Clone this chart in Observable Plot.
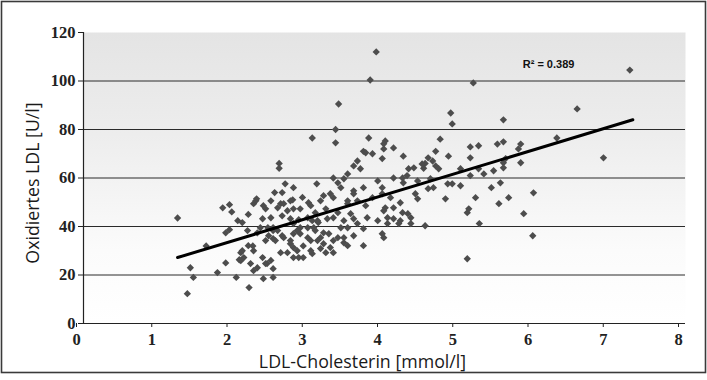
<!DOCTYPE html>
<html><head><meta charset="utf-8">
<script src="https://cdn.jsdelivr.net/npm/d3@7"></script>
<script src="https://cdn.jsdelivr.net/npm/@observablehq/plot@0.6"></script>
<style>body{margin:0;background:#fff}#chart svg{display:block}</style>
</head><body><div id="chart"></div>
<script>
// LDL-Cholesterin [mmol/l]
const ldl = [
1.25,1.38,1.42,1.46,1.63,1.78,1.85,1.89,1.89,1.94,1.94,1.97,2.03,2.05,2.07,2.09,2.11,2.11,2.13,2.19,
2.2,2.25,2.26,2.26,2.3,2.38,2.38,2.42,2.44,2.49,2.49,2.52,2.52,2.52,2.54,2.6,2.6,2.62,2.62,2.64,
2.64,2.68,2.71,2.78,2.79,2.79,2.79,2.84,2.86,2.88,2.91,2.92,2.98,2.99,3.04,3.04,3.08,3.1,3.19,3.22,
3.28,3.32,3.35,3.35,3.39,3.46,3.46,3.51,3.59,3.59,3.64,3.68,3.72,3.72,3.75,3.79,3.81,3.84,3.84,3.89,
3.91,3.97,3.97,3.97,4.01,4.01,3.99,4.12,4.25,4.32,4.3,4.24,4.52,4.54,4.54,4.68,4.74,4.85,4.88,4.9,
4.9,5.01,5.1,5.1,5.12,5.14,5.14,5.18,5.21,5.25,5.25,5.26,5.42,5.5,5.52,5.54,5.58,5.58,5.58,5.65,
5.78,5.81,5.81,5.85,5.97,5.98,6.29,6.56,6.91,7.26,
3.38,3.42,3.64,3.38,3.24,3.12,3.04,3.59,3.77,3.91,4.04,3.51,3.72,3.06,3.19,3.26,3.38,3.59,3.19,3.11,
3.32,3.46,3.51,3.72,3.15,3.22,
4.64,4.68,4.72,4.61,4.65,4.58,4.84,4.41,4.44,4.81,3.97,4.08,4.21,4.12,3.99,4.04,4.24,4.31,4.35,4.12,
4.21,4.19,3.99,4.35,
2.18,2.35,2.46,2.58,2.66,2.75,2.55,2.42,2.52,2.88,3.02,3.08,3.11,2.98,2.86,2.75,2.64,
2.29,2.39,2.49,2.58,2.66,2.75,3.02,3.15,3.32,3.51,3.59,3.55,3.32,2.79,2.52,2.45,2.31,2.19,2.09,
2.22,2.31,2.42,2.26,2.39,2.71,2.75,2.84,2.92,2.79,3.02,3.28,3.32,3.46,3.15,2.98,2.79,2.88,3.42,3.64,
3.75,3.99,4.58,4.5,5.61,4.12,4.25,4.39,4.44,5.01,5.14,5.32,5.45,5.58,3.51
];
// Oxidiertes LDL [U/l]
const oxLdl = [
43.5,12.3,23,19,32,21,47.7,37.4,25,49,38.7,46,19,42.4,26.3,29.2,41.6,30,27.2,45,
14.8,32,30,49.4,51.4,43.2,27.2,47.3,24.7,26,43.6,35,22.6,19,54,66,64,49.4,29.2,54,
36.2,57.6,46.5,51,56,47.3,31.3,38.3,27.2,47.3,52,32,39.5,49.8,76.5,28.8,45.7,57.6,52.7,47.3,
53.5,60,80,74.5,90.5,59.7,42.4,50.6,54.7,65,67,63.8,71,56,48.6,76.5,100.4,70,51.9,112,
58.8,68,53.5,37,47.7,75.3,72,72.4,69,63.8,61,60,64,66,40.3,71,76,69,86.8,82.3,
57.6,63.8,26.7,45.7,47.3,72.8,68.3,99.2,51.9,73.3,63.8,41.2,56,74,49.4,58,74.9,84,66.3,51.9,
72,74,66.3,45.3,36.2,53.9,76.5,88.5,68.3,104.5,
58,56,50.6,45.7,43.2,41.6,42.4,43.2,43.6,42.4,41.2,39.5,39.1,39.5,37.4,37,35.4,36.2,32.9,34.2,
34.2,33.3,32.1,32.1,30.9,29.2,
67,65,63.8,59.7,56,55.6,57.6,53.5,51.4,51.4,56,51.9,49.8,47.7,46.5,43.6,45.7,45.3,43.6,43.2,
42.4,41.2,35.4,41.2,
38.3,39.5,36.2,38.3,35.4,34.2,34.2,34.2,39.5,37,34.2,38.3,42.4,43.6,42.8,43.2,44.4,
50.6,48.6,50.6,47.7,49.4,50.6,48.6,50.6,51.9,49.4,53.5,45.3,43.6,41.2,38.3,39.5,37.4,32.1,25.9,
24.7,23,24.7,21.8,18.5,29.2,32.9,30,27.2,27.2,30,31.3,29.2,35.4,35.4,35.4,37,39.5,39.5,41.2,
70.4,74.1,68.3,65.8,68,60,58,64.2,58.8,56.8,61,61.7,63,64.2,61.7
];
// Linear trend line (end points) and its label
const trendX = [1.25, 7.3];
const trendY = [27.2, 84];
const r2Label = ["R² = 0.389"];
const r2X = [6.18];
const r2Y = [107];
const xTicks = [0, 1, 2, 3, 4, 5, 6, 7, 8];
const yTicks = [0, 20, 40, 60, 80, 100, 120];
const gridY = [20, 40, 60, 80, 100];
const xTitle = "LDL-Cholesterin [mmol/l]";
const yTitle = "Oxidiertes LDL [U/l]";

const points = ldl.map((x, i) => ({x, y: oxLdl[i]}));
const trend = trendX.map((x, i) => ({x, y: trendY[i]}));
const r2 = r2Label.map((t, i) => ({t, x: r2X[i], y: r2Y[i]}));

const defsMark = () => {
  const defs = d3.create("svg:defs");
  const g = defs.append("linearGradient").attr("id", "bgGrad")
    .attr("x1", 0).attr("y1", 0).attr("x2", 0).attr("y2", 1);
  g.append("stop").attr("offset", "0%").attr("stop-color", "#e4e4e4");
  g.append("stop").attr("offset", "35%").attr("stop-color", "#ededed");
  g.append("stop").attr("offset", "75%").attr("stop-color", "#fbfbfb");
  g.append("stop").attr("offset", "100%").attr("stop-color", "#ffffff");
  return defs.node();
};
const borderMark = (index, scales, values, dims) => {
  const r = d3.create("svg:rect")
    .attr("x", 1.5).attr("y", 1.5)
    .attr("width", dims.width - 3).attr("height", 371)
    .attr("fill", "none").attr("stroke", "#3a3a3a").attr("stroke-width", 1.6);
  return r.node();
};

const serif = "'Liberation Serif', 'DejaVu Serif', serif";
const sans = "'Open Sans', 'Noto Sans', sans-serif";

const chart = Plot.plot({
  width: 707,
  height: 380,
  marginLeft: 83,
  marginRight: 22,
  marginTop: 32,
  marginBottom: 57,
  x: {domain: [0, 8]},
  y: {domain: [0, 120]},
  style: {background: "#ffffff"},
  marks: [
    defsMark,
    borderMark,
    Plot.frame({fill: "url(#bgGrad)", stroke: null}),
    Plot.ruleY(gridY, {stroke: "#2a2a2a", strokeWidth: 1}),
    Plot.ruleX([0], {stroke: "#222", strokeWidth: 1.2}),
    Plot.ruleY([0], {stroke: "#222", strokeWidth: 1.2}),
    Plot.axisY(yTicks, {tickSize: 5, tickPadding: 3, fontSize: 16.5, fontFamily: serif, fontWeight: "bold", label: null, stroke: "#222", fill: "#222"}),
    Plot.axisX(xTicks, {tickSize: 4, tickPadding: 6, fontSize: 16.5, fontFamily: serif, fontWeight: "bold", label: null, dx: -7, stroke: "#222", fill: "#222"}),
    Plot.dot(points, {x: "x", y: "y", symbol: "diamond2", r: 3.3, fill: "#4d4d4d", stroke: null}),
    Plot.line(trend, {x: "x", y: "y", stroke: "#000", strokeWidth: 3}),
    Plot.text(r2, {x: "x", y: "y", text: "t", fontSize: 11, fontWeight: "bold", fontFamily: "'Liberation Sans', Arial, sans-serif", fill: "#111"}),
    Plot.text([yTitle], {frameAnchor: "left", textAnchor: "middle", lineAnchor: "middle", dx: -50, dy: 5, rotate: -90, text: d => d, fontSize: 17.8, fontFamily: sans, fill: "#1a1a1a"}),
    Plot.text([xTitle], {frameAnchor: "bottom", textAnchor: "middle", dy: 44, dx: -22, text: d => d, fontSize: 17.8, fontFamily: sans, fill: "#1a1a1a"})
  ]
});
document.getElementById("chart").append(chart);
</script>
</body></html>
